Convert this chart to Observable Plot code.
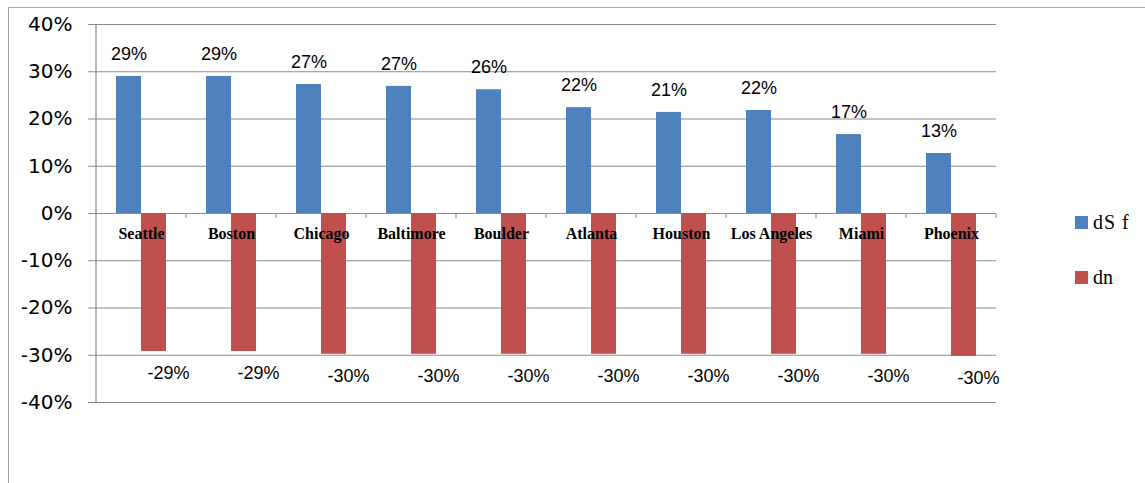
<!DOCTYPE html>
<html>
<head>
<meta charset="utf-8">
<script src="https://cdn.jsdelivr.net/npm/d3@7"></script>
<script src="https://cdn.jsdelivr.net/npm/@observablehq/plot@0.6"></script>
<style>
  html, body { margin: 0; padding: 0; background: #fff; }
  #wrap { position: relative; width: 1145px; height: 483px; overflow: hidden; }
  #border { position: absolute; left: 8px; top: 7px; right: -2px; bottom: -2px;
            border-top: 1px solid #a6a6a6; border-left: 1px solid #a6a6a6; }
  #chart { position: absolute; left: 0; top: 0; }
  .legend { position: absolute; left: 1075px; font-family: "Liberation Serif", serif; font-size: 20px; color: #000; }
  .legend .item { position: absolute; white-space: nowrap; display: flex; align-items: center; }
  .legend .sw { width: 13px; height: 13px; margin-right: 5px; display: inline-block; }
</style>
</head>
<body>
<div id="wrap">
  <div id="border"></div>
  <div id="chart"></div>
  <div class="legend">
    <div class="item" style="top:211px"><span class="sw" style="background:#4F81BD"></span><span style="letter-spacing:1px">dS f</span></div>
    <div class="item" style="top:266px"><span class="sw" style="background:#C0504D"></span><span>dn</span></div>
  </div>
</div>
<script>
const cities = ["Seattle", "Boston", "Chicago", "Baltimore", "Boulder", "Atlanta", "Houston", "Los Angeles", "Miami", "Phoenix"];
const dSf = [0.29, 0.29, 0.273, 0.269, 0.262, 0.224, 0.214, 0.218, 0.167, 0.127];
const dn = [-0.292, -0.292, -0.298, -0.298, -0.298, -0.298, -0.298, -0.298, -0.298, -0.302];
const yTicks = [-0.4, -0.3, -0.2, -0.1, 0, 0.1, 0.2, 0.3, 0.4];

const blue = "#4F81BD", red = "#C0504D", grid = "#8a8a8a";
const pct = d => Math.round(d * 100) + "%";

const rowsS = cities.map((c, i) => ({city: c, v: dSf[i]}));
const rowsN = cities.map((c, i) => ({city: c, v: dn[i]}));

// axis line + category boundary ticks on the zero line
function frameMarks(index, scales, values, dims) {
  const g = d3.create("svg:g");
  const x = scales.x, y = scales.y;
  const step = x(cities[1]) - x(cities[0]);
  const left = dims.marginLeft;
  g.append("line").attr("x1", left).attr("x2", left)
    .attr("y1", y(0.4)).attr("y2", y(-0.4)).attr("stroke", grid).attr("stroke-width", 1.2);
  const y0 = y(0);
  cities.forEach((c, i) => {
    const xb = x(c);
    if (i > 0) g.append("line").attr("x1", xb).attr("x2", xb).attr("y1", y0).attr("y2", y0 + 5).attr("stroke", grid);
  });
  const xe = x(cities[cities.length - 1]) + step;
  g.append("line").attr("x1", xe).attr("x2", xe).attr("y1", y0).attr("y2", y0 + 5).attr("stroke", grid);
  return g.node();
}

const chart = Plot.plot({
  width: 1145,
  height: 483,
  marginLeft: 96,
  marginRight: 149,
  marginTop: 24,
  marginBottom: 81,
  style: {fontFamily: "DejaVu Sans", fontSize: "20px", color: "#000", background: "transparent"},
  x: {type: "band", domain: cities, padding: 0, axis: null},
  y: {domain: [-0.4, 0.4], axis: null, label: null},
  marks: [
    Plot.ruleY(yTicks, {stroke: grid, strokeWidth: 1.2}),
    Plot.axisY({ticks: yTicks, tickFormat: pct, tickSize: 8, tickPadding: 16, stroke: grid, label: null, fontFamily: "DejaVu Sans", fontSize: 20}),
    Plot.barY(rowsS, {x: "city", y: "v", fill: blue, insetLeft: 20, insetRight: 45}),
    Plot.barY(rowsN, {x: "city", y: "v", fill: red, insetLeft: 45, insetRight: 20}),
    frameMarks,
    Plot.text(rowsS, {x: "city", y: "v", text: d => pct(d.v), dx: -12.5, dy: -22, fontFamily: "Liberation Sans", fontSize: 18, fill: "#000"}),
    Plot.text(rowsN, {x: "city", y: "v", text: d => pct(d.v), dx: 27, dy: 22, fontFamily: "Liberation Sans", fontSize: 18, fill: "#000"}),
    Plot.text(cities, {x: d => d, y: () => 0, text: d => d, dy: 20, fontFamily: "Liberation Serif", fontWeight: "bold", fontSize: 16, fill: "#000"})
  ]
});
document.getElementById("chart").appendChild(chart);
</script>
</body>
</html>
